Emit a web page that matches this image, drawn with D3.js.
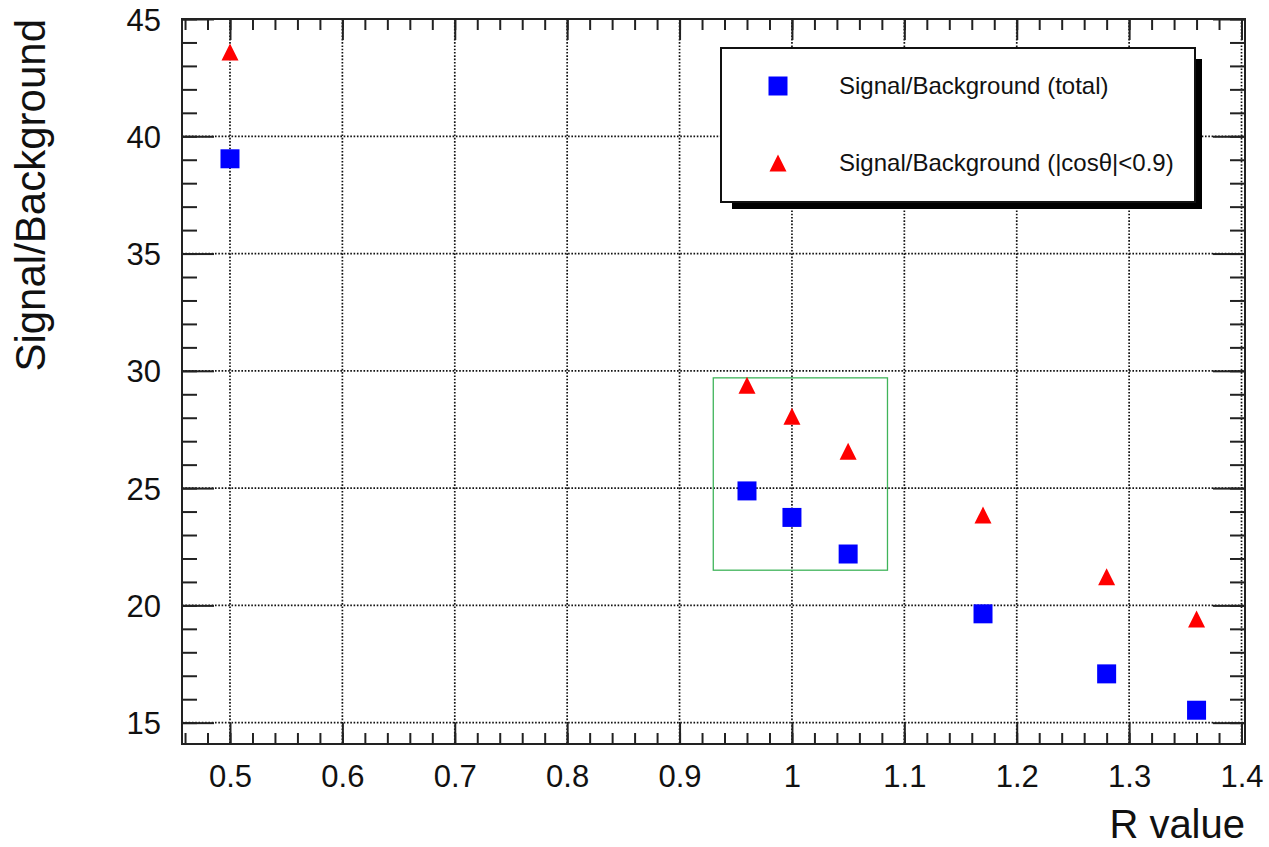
<!DOCTYPE html>
<html>
<head>
<meta charset="utf-8">
<script src="https://cdn.jsdelivr.net/npm/d3@7"></script>
<style>
  html, body { margin: 0; padding: 0; background: #fff; }
  svg { display: block; font-family: "Liberation Sans", Arial, Helvetica, sans-serif; }
</style>
</head>
<body>
<svg id="chart" width="1269" height="847"></svg>
<script>
// R values scanned and the resulting signal-to-background ratios
const rValues = [0.5, 0.96, 1.0, 1.05, 1.17, 1.28, 1.36];
const sbTotal = [39.04, 24.88, 23.75, 22.19, 19.64, 17.08, 15.53];
const sbCosCut = [43.59, 29.39, 28.06, 26.57, 23.85, 21.22, 19.42];

const seriesNames = ["Signal/Background (total)", "Signal/Background (|cos\u03b8|<0.9)"];
const xTickValues = [0.5, 0.6, 0.7, 0.8, 0.9, 1.0, 1.1, 1.2, 1.3, 1.4];
const yTickValues = [15, 20, 25, 30, 35, 40, 45];
const xTitle = "R value";
const yTitle = "Signal/Background";

// highlighted region around the working points near R = 1
const boxR = [0.93, 1.085];
const boxSB = [21.5, 29.7];

const svg = d3.select("#chart");
const W = 1269, H = 847;
const frame = { left: 182, right: 1245, top: 19, bottom: 744 };

svg.append("rect").attr("width", W).attr("height", H).attr("fill", "#fff");

const x = d3.scaleLinear().domain([0.4573, 1.4031]).range([frame.left, frame.right]);
const y = d3.scaleLinear().domain([14.09, 45]).range([frame.bottom, frame.top]);

const xMinor = d3.range(0.46, 1.4001, 0.02).map(v => +v.toFixed(2));
const yMinor = d3.range(15, 45.001, 1);

// dotted grid at the major ticks
const grid = svg.append("g").attr("stroke", "#111").attr("stroke-width", 1.7)
  .attr("stroke-dasharray", "1.6,1.7");
grid.selectAll(".gx").data(xTickValues).join("line")
  .attr("x1", d => x(d)).attr("x2", d => x(d))
  .attr("y1", frame.top).attr("y2", frame.bottom);
grid.selectAll(".gy").data(yTickValues).join("line")
  .attr("x1", frame.left).attr("x2", frame.right)
  .attr("y1", d => y(d)).attr("y2", d => y(d));

// axes: bottom/left with labels, top/right mirrored ticks
const dropDomain = g => g.select(".domain").remove();
function styleTicks(g) {
  g.selectAll("line").attr("stroke", "#222").attr("stroke-width", 2);
}

const xMajor = 21, xMinorLen = 11, yMajor = 32, yMinorLen = 15;

svg.append("g").attr("transform", `translate(0,${frame.bottom})`)
  .call(d3.axisBottom(x).tickValues(xMinor).tickSize(-xMinorLen).tickFormat(""))
  .call(dropDomain).call(styleTicks);
svg.append("g").attr("transform", `translate(0,${frame.bottom})`)
  .call(d3.axisBottom(x).tickValues(xTickValues).tickSize(-xMajor).tickPadding(21)
    .tickFormat(d => d3.format("~g")(d)))
  .call(dropDomain).call(styleTicks)
  .call(g => g.selectAll("text").attr("font-size", 31).attr("fill", "#111")
    .attr("font-family", "'Liberation Sans', Arial, sans-serif"));

svg.append("g").attr("transform", `translate(0,${frame.top})`)
  .call(d3.axisTop(x).tickValues(xMinor).tickSize(-xMinorLen).tickFormat(""))
  .call(dropDomain).call(styleTicks);
svg.append("g").attr("transform", `translate(0,${frame.top})`)
  .call(d3.axisTop(x).tickValues(xTickValues).tickSize(-xMajor).tickFormat(""))
  .call(dropDomain).call(styleTicks);

svg.append("g").attr("transform", `translate(${frame.left},0)`)
  .call(d3.axisLeft(y).tickValues(yMinor).tickSize(-yMinorLen).tickFormat(""))
  .call(dropDomain).call(styleTicks);
svg.append("g").attr("transform", `translate(${frame.left},0)`)
  .call(d3.axisLeft(y).tickValues(yTickValues).tickSize(-yMajor).tickPadding(21)
    .tickFormat(d3.format("d")))
  .call(dropDomain).call(styleTicks)
  .call(g => g.selectAll("text").attr("font-size", 31).attr("fill", "#111")
    .attr("font-family", "'Liberation Sans', Arial, sans-serif").attr("dy", "0.36em"));

svg.append("g").attr("transform", `translate(${frame.right},0)`)
  .call(d3.axisRight(y).tickValues(yMinor).tickSize(-yMinorLen).tickFormat(""))
  .call(dropDomain).call(styleTicks);
svg.append("g").attr("transform", `translate(${frame.right},0)`)
  .call(d3.axisRight(y).tickValues(yTickValues).tickSize(-yMajor).tickFormat(""))
  .call(dropDomain).call(styleTicks);

// frame
svg.append("rect")
  .attr("x", frame.left).attr("y", frame.top)
  .attr("width", frame.right - frame.left).attr("height", frame.bottom - frame.top)
  .attr("fill", "none").attr("stroke", "#222").attr("stroke-width", 2);

// axis titles
svg.append("text").text(xTitle)
  .attr("x", frame.right).attr("y", 838)
  .attr("text-anchor", "end").attr("font-size", 40).attr("fill", "#111");
svg.append("text").text(yTitle)
  .attr("transform", `translate(45,${frame.top}) rotate(-90)`)
  .attr("text-anchor", "end").attr("font-size", 42).attr("fill", "#111");

// highlight box
svg.append("rect")
  .attr("x", x(boxR[0])).attr("y", y(boxSB[1]))
  .attr("width", x(boxR[1]) - x(boxR[0])).attr("height", y(boxSB[0]) - y(boxSB[1]))
  .attr("fill", "none").attr("stroke", "#3fb45a").attr("stroke-width", 1.3);

// markers
const sq = 19, tri = 17;
const squarePath = d3.symbol().type(d3.symbolSquare).size(sq * sq);
function trianglePath(cx, cy) {
  const h = tri / 2;
  return `M${cx - h},${cy + h}L${cx + h},${cy + h}L${cx},${cy - h}Z`;
}

const ptsTotal = rValues.map((r, i) => ({ r, v: sbTotal[i] }));
const ptsCos = rValues.map((r, i) => ({ r, v: sbCosCut[i] }));

svg.append("g").selectAll("path").data(ptsCos).join("path")
  .attr("d", d => trianglePath(x(d.r), y(d.v)))
  .attr("fill", "#ff0000");

svg.append("g").selectAll("path").data(ptsTotal).join("path")
  .attr("d", squarePath)
  .attr("transform", d => `translate(${x(d.r)},${y(d.v)})`)
  .attr("fill", "#0000ff");

// legend with drop shadow
const lg = { x: 721, y: 48, w: 474, h: 154 };
svg.append("rect").attr("x", lg.x + lg.w).attr("y", lg.y + 11).attr("width", 7).attr("height", lg.h - 4)
  .attr("fill", "#000");
svg.append("rect").attr("x", lg.x + 11).attr("y", lg.y + lg.h).attr("width", lg.w - 4).attr("height", 7)
  .attr("fill", "#000");
svg.append("rect").attr("x", lg.x).attr("y", lg.y).attr("width", lg.w).attr("height", lg.h)
  .attr("fill", "#fff").attr("stroke", "#111").attr("stroke-width", 2);

const legendRows = [
  { name: seriesNames[0], cy: 86, kind: "square" },
  { name: seriesNames[1], cy: 163, kind: "triangle" }
];
legendRows.forEach(row => {
  if (row.kind === "square") {
    svg.append("path").attr("d", squarePath)
      .attr("transform", `translate(778,${row.cy})`).attr("fill", "#0000ff");
  } else {
    svg.append("path").attr("d", trianglePath(778, row.cy)).attr("fill", "#ff0000");
  }
  svg.append("text").text(row.name)
    .attr("x", 839).attr("y", row.cy).attr("dy", "0.35em")
    .attr("font-size", 24).attr("fill", "#111");
});
</script>
</body>
</html>
